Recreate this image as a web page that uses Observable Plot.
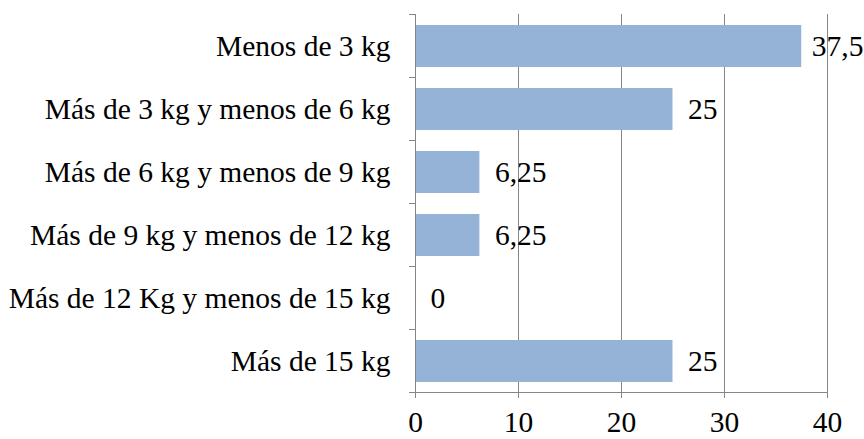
<!DOCTYPE html>
<html><head><meta charset="utf-8">
<script src="https://cdn.jsdelivr.net/npm/d3@7"></script>
<script src="https://cdn.jsdelivr.net/npm/@observablehq/plot@0.6"></script>
<style>body{margin:0;background:#fff}</style>
</head><body><div id="chart"></div>
<script>
const categories = [
  "Menos de 3 kg",
  "Más de 3 kg y menos de 6 kg",
  "Más de 6 kg y menos de 9 kg",
  "Más de 9 kg y menos de 12 kg",
  "Más de 12 Kg y menos de 15 kg",
  "Más de 15 kg"
];
const values = [37.5, 25, 6.25, 6.25, 0, 25];
const valueLabels = ["37,5", "25", "6,25", "6,25", "0", "25"];
const xTicks = [0, 10, 20, 30, 40];
const gridTicks = [10, 20, 30, 40];

const data = categories.map((c, i) => ({cat: c, value: values[i], label: valueLabels[i]}));
const maxV = d3.max(values);
const axisGray = "#868686";
const barFill = "#95b3d7";
const FS = 29.5;
const FF = "'Liberation Serif', 'Times New Roman', serif";
const padIn = 0.335;

// band-boundary ticks on the category axis + bottom axis line, positioned via the scales
function frameTicks(index, scales, vals, dims) {
  const y = scales.y, x = scales.x;
  const step = y(categories[1]) - y(categories[0]);
  let bw = y.bandwidth;
  if (!(bw > 0)) bw = scales.scales && scales.scales.y && scales.scales.y.bandwidth;
  if (!(bw > 0)) bw = step * (1 - padIn);
  const gap = (step - bw) / 2;
  const x0 = x(0);
  const g = d3.create("svg:g").attr("stroke", axisGray).attr("stroke-width", 1);
  const bounds = categories.map(c => y(c) - gap);
  bounds.push(y(categories[categories.length - 1]) + bw + gap);
  for (const b of bounds) {
    g.append("line").attr("x1", x0 - 6).attr("x2", x0).attr("y1", b).attr("y2", b);
  }
  const yb = bounds[bounds.length - 1];
  g.append("line").attr("x1", x0).attr("x2", x(xTicks[xTicks.length - 1])).attr("y1", yb).attr("y2", yb);
  return g.node();
}

const chart = Plot.plot({
  width: 864,
  height: 439,
  marginLeft: 415,
  marginRight: 37,
  marginTop: 14,
  marginBottom: 46,
  style: {fontFamily: FF, fontSize: FS + "px", background: "#fff", color: "#000"},
  x: {domain: [0, 40]},
  y: {domain: categories, paddingInner: padIn, paddingOuter: padIn / 2},
  marks: [
    Plot.gridX({ticks: gridTicks, stroke: axisGray, strokeOpacity: 1, strokeWidth: 1}),
    Plot.barX(data, {x: "value", y: "cat", fill: barFill}),
    Plot.ruleX([0], {stroke: axisGray, strokeWidth: 1}),
    frameTicks,
    Plot.axisY({tickSize: 0, tickPadding: 25, fontSize: FS, fontFamily: FF, label: null, fill: "#000"}),
    Plot.axisX({ticks: xTicks, tickSize: 5, tickPadding: 13, fontSize: FS, fontFamily: FF, label: null, stroke: axisGray, fill: "#000", tickFormat: d => String(d)}),
    Plot.text(data.filter(d => d.value !== maxV), {x: "value", y: "cat", text: "label", textAnchor: "start", dx: 15, fontSize: FS, fontFamily: FF, fill: "#000"}),
    Plot.text(data.filter(d => d.value === maxV), {x: "value", y: "cat", text: "label", textAnchor: "start", dx: 10, fontSize: FS, fontFamily: FF, fill: "#000"})
  ]
});
document.getElementById("chart").appendChild(chart);
</script>
</body></html>
